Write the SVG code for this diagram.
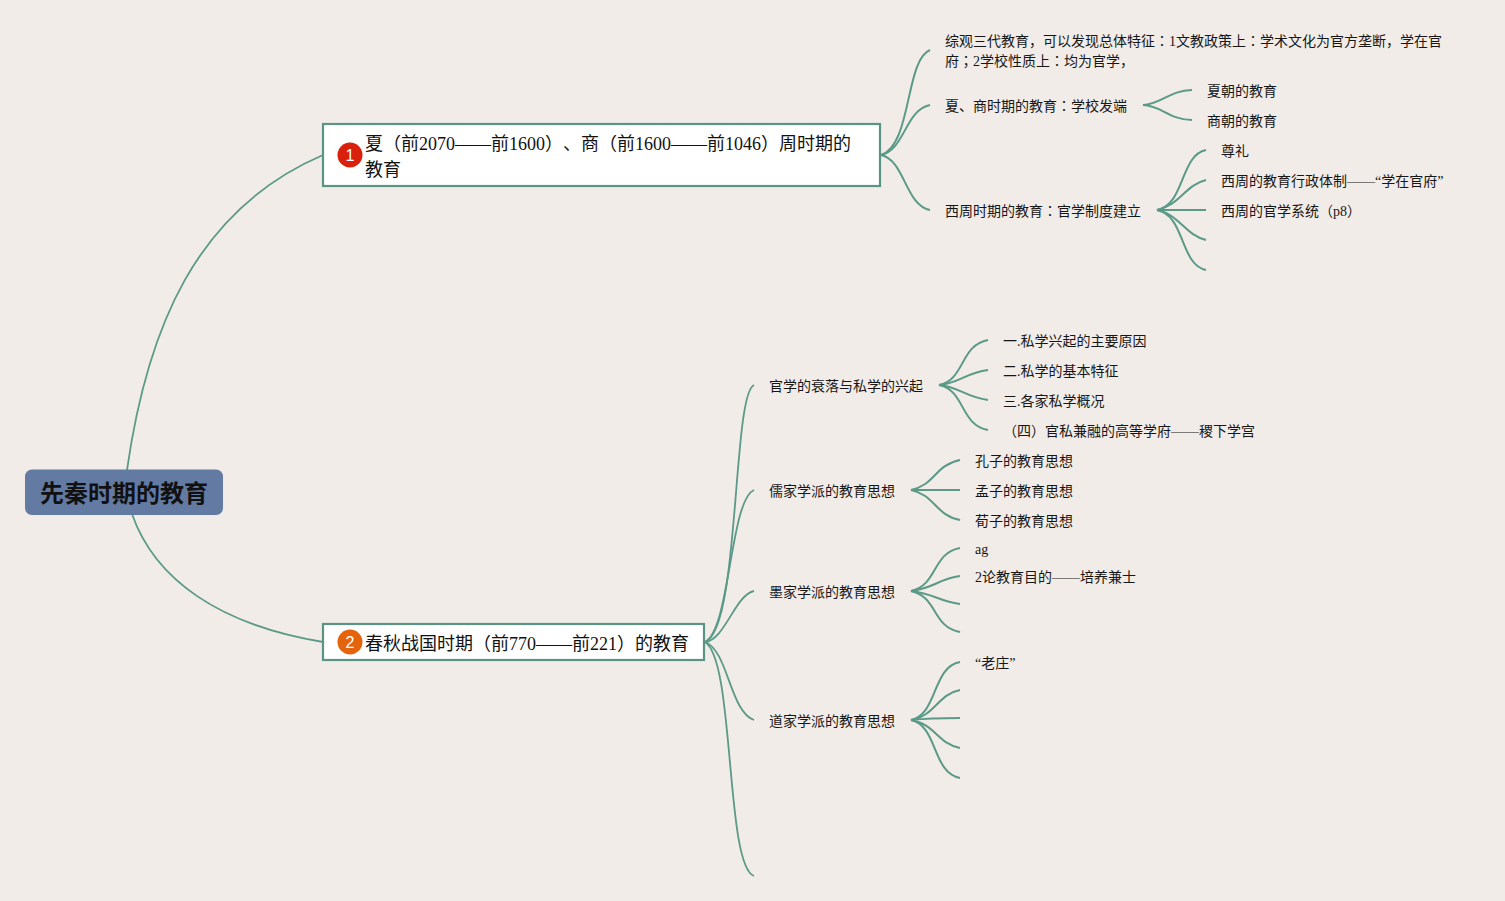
<svg xmlns="http://www.w3.org/2000/svg" width="1505" height="901" viewBox="0 0 1505 901">
<style>
text{font-family:"Liberation Serif","Noto Sans CJK SC",serif;fill:#161616;text-spacing-trim:space-all;font-feature-settings:"chws" 0}
tspan.p{font-family:"Liberation Serif","Noto Sans CJK JP",serif}
.s{font-size:14px}
.m{font-size:18px;fill:#111}
.r{font-size:24px;font-weight:bold;fill:#111}
.box{fill:#fff;stroke:#5b9485;stroke-width:2.2}
#connectors path{fill:none;stroke:#5b9a88;stroke-width:2;stroke-linecap:butt}
#connectors path.t{stroke-width:1.8}
.b{font-family:"Liberation Sans",sans-serif;font-size:16px;fill:#fff;text-anchor:middle}
</style>
<rect width="1505" height="901" fill="#f1ece8"/>
<g id="connectors">
<path class="t" d="M127 470C147 330 195 210 323 155"/>
<path class="t" d="M132 514C155 580 220 625 323 642"/>
<path d="M881 155C912 145 905 60 930 50"/>
<path d="M881 155C905 150 905 110 930 105"/>
<path d="M881 155C905 160 905 205 930 210"/>
<path d="M1143 105C1160 105 1170 90 1192 90"/>
<path d="M1143 105C1160 105 1170 120 1192 120"/>
<path d="M1157 210C1185 205 1180 155 1206 150"/>
<path d="M1157 210C1180 205 1185 185 1206 180"/>
<path d="M1157 210H1206"/>
<path d="M1157 210C1180 215 1185 235 1206 240"/>
<path d="M1157 210C1185 215 1180 265 1206 270"/>
<path class="t" d="M705 642C740 630 732 395 754 385"/>
<path class="t" d="M705 642C730 630 730 500 754 490"/>
<path class="t" d="M705 642C725 640 735 595 754 591"/>
<path class="t" d="M705 642C728 650 730 712 754 720"/>
<path class="t" d="M705 642C735 660 725 865 754 876"/>
<path d="M939 385C965 380 960 345 988 340"/>
<path d="M939 385C960 383 965 373 988 370"/>
<path d="M939 385C960 387 965 397 988 400"/>
<path d="M939 385C965 390 960 425 988 430"/>
<path d="M911 490C935 485 935 465 960 460"/>
<path d="M911 490H960"/>
<path d="M911 490C935 495 935 515 960 520"/>
<path d="M911 591C938 585 932 553 960 548"/>
<path d="M911 591C935 588 938 579 960 576"/>
<path d="M911 591C935 594 938 601 960 604"/>
<path d="M911 591C938 597 932 627 960 632"/>
<path d="M911 720C938 714 932 667 960 662"/>
<path d="M911 720C935 716 938 694 960 690"/>
<path d="M911 720C930 718 945 718 960 718"/>
<path d="M911 720C935 724 938 744 960 748"/>
<path d="M911 720C938 726 932 773 960 778"/>
</g>
<g id="root"><rect x="25" y="469.5" width="198" height="45.5" rx="7" fill="#637aa3"/><text class="r" x="40" y="502" textLength="168">先秦时期的教育</text></g>
<g id="n1"><rect class="box" x="323" y="124" width="557" height="62"/><circle cx="350" cy="155" r="12.5" fill="#d9200b"/><text class="b" x="350" y="161">1</text><text class="m" x="365" y="150">夏（前2070——前1600）、商（前1600——前1046）周时期的</text><text class="m" x="365" y="176">教育</text></g>
<g id="n2"><rect class="box" x="323" y="624" width="381" height="36"/><circle cx="350" cy="642" r="12.5" fill="#e4640e"/><text class="b" x="350" y="648">2</text><text class="m" x="365" y="650">春秋战国时期（前770——前221）的教育</text></g>
<g id="n1-1"><text class="s" x="945" y="46">综观三代教育，可以发现总体特征<tspan class="p">：</tspan>1文教政策上<tspan class="p">：</tspan>学术文化为官方垄断，学在官</text><text class="s" x="945" y="66">府<tspan class="p">；</tspan>2学校性质上<tspan class="p">：</tspan>均为官学，</text></g>
<g id="n1-2"><text class="s" x="945" y="111">夏、商时期的教育<tspan class="p">：</tspan>学校发端</text></g>
<g id="n1-3"><text class="s" x="945" y="216">西周时期的教育<tspan class="p">：</tspan>官学制度建立</text></g>
<g id="n1-2-1"><text class="s" x="1207" y="96">夏朝的教育</text></g>
<g id="n1-2-2"><text class="s" x="1207" y="126">商朝的教育</text></g>
<g id="n1-3-1"><text class="s" x="1221" y="156">尊礼</text></g>
<g id="n1-3-2"><text class="s" x="1221" y="186">西周的教育行政体制——“学在官府”</text></g>
<g id="n1-3-3"><text class="s" x="1221" y="216">西周的官学系统（p8）</text></g>
<g id="n2-1"><text class="s" x="769" y="391">官学的衰落与私学的兴起</text></g>
<g id="n2-2"><text class="s" x="769" y="496">儒家学派的教育思想</text></g>
<g id="n2-3"><text class="s" x="769" y="597">墨家学派的教育思想</text></g>
<g id="n2-4"><text class="s" x="769" y="726">道家学派的教育思想</text></g>
<g id="n2-1-1"><text class="s" x="1003" y="346">一.私学兴起的主要原因</text></g>
<g id="n2-1-2"><text class="s" x="1003" y="376">二.私学的基本特征</text></g>
<g id="n2-1-3"><text class="s" x="1003" y="406">三.各家私学概况</text></g>
<g id="n2-1-4"><text class="s" x="1003" y="436">（四）官私兼融的高等学府——稷下学宫</text></g>
<g id="n2-2-1"><text class="s" x="975" y="466">孔子的教育思想</text></g>
<g id="n2-2-2"><text class="s" x="975" y="496">孟子的教育思想</text></g>
<g id="n2-2-3"><text class="s" x="975" y="526">荀子的教育思想</text></g>
<g id="n2-3-1"><text class="s" x="975" y="554">ag</text></g>
<g id="n2-3-2"><text class="s" x="975" y="582">2论教育目的——培养兼士</text></g>
<g id="n2-4-1"><text class="s" x="975" y="668">“老庄”</text></g>
</svg>
